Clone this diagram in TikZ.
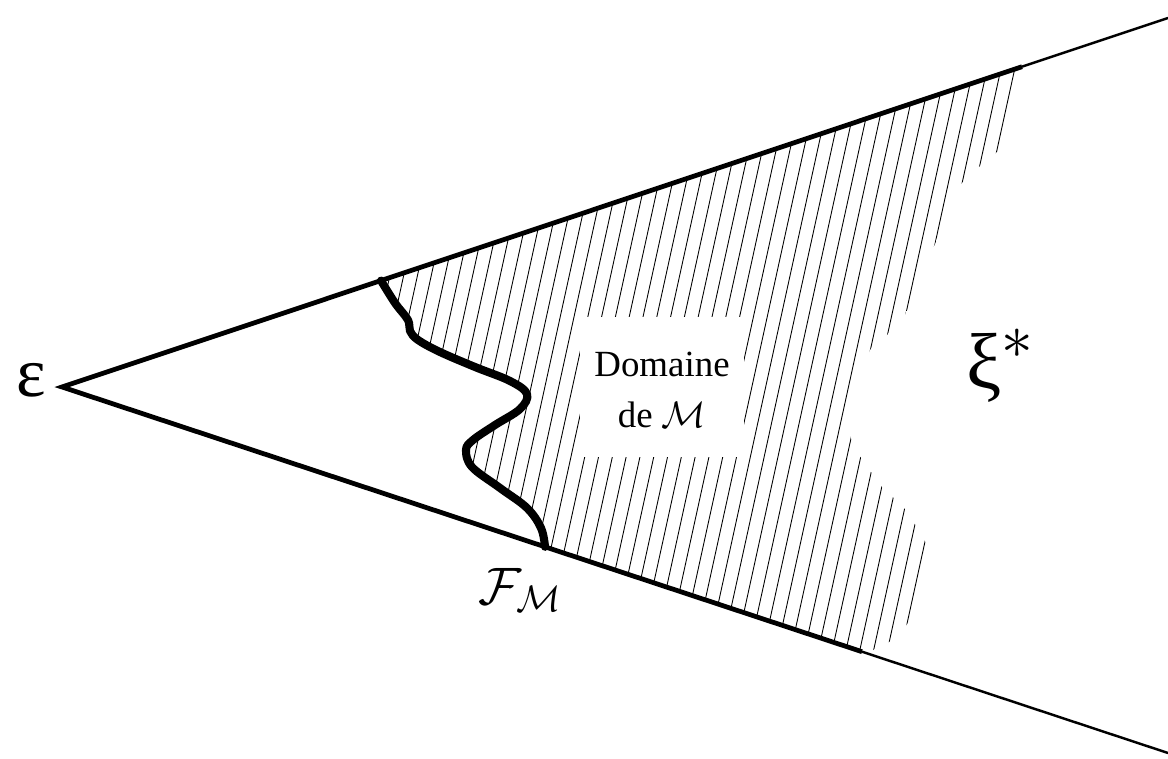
\documentclass[tikz,border=0pt]{standalone}
\usepackage{fix-cm}
\usepackage{fontspec}
\setmainfont{Liberation Serif}
\begin{document}
\begin{tikzpicture}[x=0.02cm,y=-0.02cm,
  thinline/.style={line width=1.4pt},
  thickline/.style={line width=2.7pt,line join=miter,miter limit=20},
  hatchline/.style={line width=0.5pt},
  wavy/.style={line width=4.6pt,line cap=round,line join=round},
  bigsym/.style={font=\fontsize{40}{48}\selectfont,inner sep=0pt},
  ]
\useasboundingbox (0,0) rectangle (1168,759);
\coordinate (E) at (62,387);
\coordinate (U) at (1168,18);
\coordinate (L) at (1168,753);
\coordinate (Ut) at (1022,66.7);
\coordinate (Lt) at (862,651.7);
\coordinate (Ws) at (381,280.6);
\coordinate (We) at (545,546.8);
% hatching
\begin{scope}
\clip plot[smooth,tension=0.6] coordinates {(Ws) (395,303) (408,320) (410,331) (418,340) (440,352) (475,367) (510,381) (527,394) (520,409) (495,425) (473,440) (466,450) (472,467) (500,488) (527,508) (541,528) (We)}
  -- (Lt) -- (873,650) -- (889,642) -- (904,628) -- (925,600) -- (933,570) -- (924,538) -- (904,508) -- (882,487) -- (862,460) -- (851,439) -- (849,400) -- (871,348) -- (888,334) -- (904,317) -- (918,285) -- (932,251) -- (959,186) -- (976,169) -- (992,157) -- (1008,141) -- (Ut) -- cycle;
\foreach \k in {-38,...,7}
  \draw[hatchline] ({947+13.8*\k},0) -- ({947+13.8*\k-153.3},700);
\end{scope}
% text box
\node[fill=white,inner sep=0pt,minimum width=3.3cm,minimum height=2.8cm] (dombox) at (662,387) {};
\node[align=center,font=\fontsize{21}{28.5}\selectfont,inner sep=0pt] (dom) at (662,390) {Domaine\\de $\mathcal{M}$};
% lines
\draw[thinline] (Ut) -- (U);
\draw[thinline] (Lt) -- (L);
\draw[thickline] (Ut) -- (E) -- (Lt);
\draw[wavy] plot[smooth,tension=0.6] coordinates {(Ws) (395,303) (408,320) (410,331) (418,340) (440,352) (475,367) (510,381) (527,394) (520,409) (495,425) (473,440) (466,450) (472,467) (500,488) (527,508) (541,528) (We)};
% labels
\node[bigsym,anchor=base] (eps) at (31.5,397) {ε};
\node[font=\fontsize{45}{50}\selectfont,inner sep=0pt,anchor=base] (xi) at (1000,389) {ξ\raisebox{17.5pt}{\fontsize{36}{40}\selectfont$\ast$}};
\node[font=\fontsize{30}{36}\selectfont,inner sep=0pt,anchor=base] (FM) at (520,604) {$\mathcal{F}_{\mathcal{M}}$};
\end{tikzpicture}
\end{document}
